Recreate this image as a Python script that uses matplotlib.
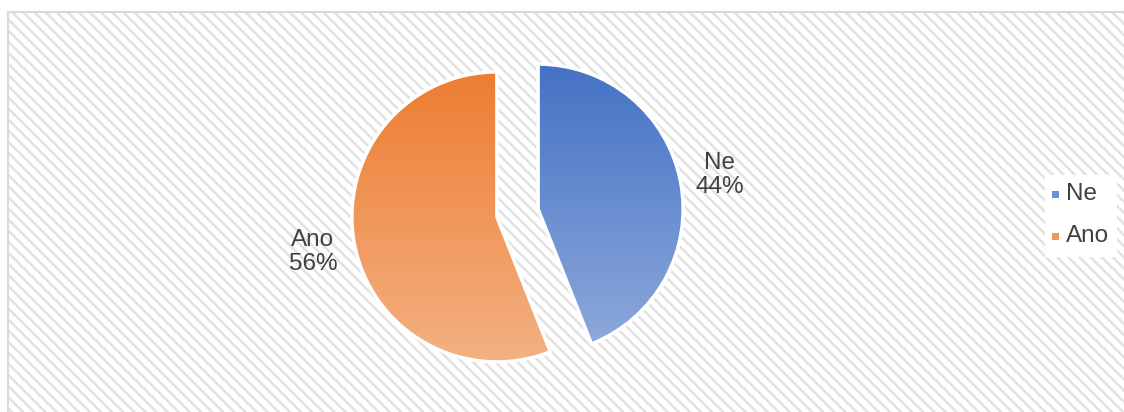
import numpy as np
import matplotlib
matplotlib.use("Agg")
import matplotlib.pyplot as plt
from matplotlib.colors import LinearSegmentedColormap
from matplotlib.patches import Rectangle

# data
labels = ["Ne", "Ano"]
shares = [44, 56]
top_colors = ["#4472C4", "#ED7D31"]
bottom_colors = ["#8FAADC", "#F4B183"]

plt.rcParams["font.family"] = ["Arial", "Liberation Sans", "DejaVu Sans"]
plt.rcParams["hatch.linewidth"] = 1.8

W, H = 1124, 412
fig = plt.figure(figsize=(W / 100, H / 100), dpi=100)
ax = fig.add_axes([0, 0, 1, 1])

# hatched chart background with thin border on left/top
# (edgecolor drives hatch colour, lw=0 hides the outline itself)
bg = Rectangle((8, -10), W + 20, H - 12 + 10, facecolor="white",
               edgecolor="#E2E2E2", linewidth=0, hatch="\\\\\\", zorder=0)
ax.add_patch(bg)
ax.plot([8, 8], [-10, H - 12], color="#D9D9D9", lw=1.5, zorder=1)
ax.plot([8, W + 10], [H - 12, H - 12], color="#D9D9D9", lw=1.5, zorder=1)

cx, cy, r = 517.5, H - 213, 145
wedges, _ = ax.pie(shares, startangle=90, counterclock=False,
                   explode=[21, 21], radius=r, center=(cx, cy),
                   frame=True)

for w, c_top, c_bot in zip(wedges, top_colors, bottom_colors):
    w.set_facecolor("none")
    w.set_edgecolor("white")
    w.set_linewidth(2.5)
    w.set_zorder(4)
    wx, wy = w.center
    cmap = LinearSegmentedColormap.from_list("g", [c_bot, c_top])
    grad = np.linspace(0, 1, 256).reshape(-1, 1)
    im = ax.imshow(grad, cmap=cmap, origin="lower", aspect="auto",
                   extent=(wx - r, wx + r, wy - r, wy + r), zorder=3)
    im.set_clip_path(w)

# data labels
ax.text(720, H - 175, f"{labels[0]}\n{shares[0]}%", ha="center", va="center",
        fontsize=17.5, color="#404040", linespacing=1.1, zorder=5)
ax.text(313, H - 252, f"{labels[1]}\n{shares[1]}%", ha="center", va="center",
        fontsize=17.5, color="#404040", linespacing=1.1, zorder=5)

# legend
ax.add_patch(Rectangle((1045, H - 257), 72, 82, facecolor="white",
                       edgecolor="none", zorder=4))
for yy, lab in zip([194, 236], labels):
    mid = "#6F8FD0" if lab == "Ne" else "#F09660"
    ax.add_patch(Rectangle((1052, H - yy - 3.5), 7, 7, facecolor=mid,
                           edgecolor="none", zorder=5))
    ax.text(1066, H - yy, lab, ha="left", va="center", fontsize=17.5,
            color="#404040", zorder=5)

ax.set_xlim(0, W)
ax.set_ylim(0, H)
ax.set_aspect("auto")
ax.axis("off")

fig.savefig("out.png", dpi=100, facecolor="white")
